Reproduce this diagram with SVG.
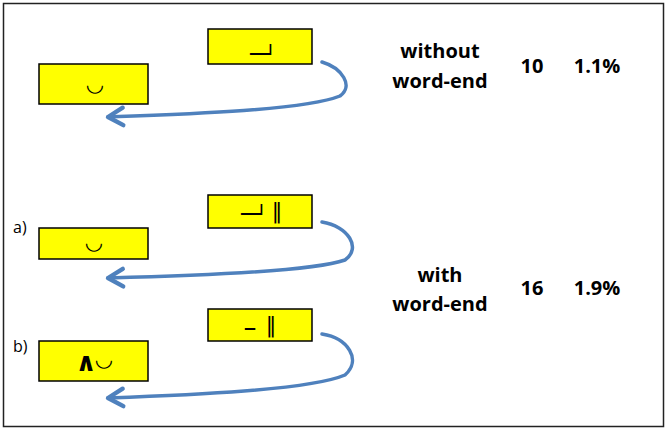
<svg xmlns="http://www.w3.org/2000/svg" width="666" height="430" viewBox="0 0 666 430">
<style>
.box{fill:#FFFF00;stroke:#000;stroke-width:1.5}
.sym{font-family:"DejaVu Sans","Noto Sans",sans-serif;font-size:18px;fill:#000;text-anchor:middle}
.big{font-size:38px}
.brv{font-size:21px}
.bar{font-size:21px}
.dash{font-size:26px}
.wedge{font-size:26px;font-weight:bold}
.lbl{font-family:"Open Sans","Liberation Sans",sans-serif;font-size:20px;font-weight:bold;fill:#000;text-anchor:middle}
.tag{font-family:"Open Sans","Liberation Sans",sans-serif;font-size:16px;fill:#000}
.arr{fill:none;stroke:#4F81BD;stroke-width:3.5;stroke-linecap:round}
</style>
<defs>
<marker id="ah" markerUnits="userSpaceOnUse" markerWidth="30" markerHeight="30" refX="0" refY="0" viewBox="-16 -12 20 24" orient="auto">
<path d="M-12,-7 L0,0 L-12,7" fill="none" stroke="#4F81BD" stroke-width="3.5" stroke-linecap="round" stroke-linejoin="round"/>
</marker>
</defs>
<rect x="3.5" y="3.5" width="660" height="423" fill="#fff" stroke="#222" stroke-width="1.5"/>
<g id="n1-src"><rect class="box" x="208" y="29" width="104" height="35"/><text class="sym big" x="260" y="58">⏗</text></g>
<g id="n1-dst"><rect class="box" x="39" y="64" width="109" height="40"/><text class="sym brv" x="95" y="91">◡</text></g>
<g id="na-src"><rect class="box" x="208" y="195" width="104" height="33"/><text class="sym big" x="251" y="218">⏗</text><text class="sym bar" x="277" y="218">‖</text></g>
<g id="na-dst"><rect class="box" x="39" y="228" width="109" height="31"/><text class="sym brv" x="94" y="249">◡</text></g>
<g id="nb-src"><rect class="box" x="208" y="309" width="104" height="32"/><text class="sym dash" x="250" y="336">–</text><text class="sym bar" x="271" y="332">‖</text></g>
<g id="nb-dst"><rect class="box" x="39" y="341" width="109" height="40"/><text class="sym wedge" x="86" y="371">∧</text><text class="sym brv" x="104" y="366">◡</text></g>
<g id="connectors">
<path class="arr" marker-end="url(#ah)" d="M322,62 C342,68 354,86 340,96 C305,110 190,114 108,117"/>
<path class="arr" marker-end="url(#ah)" d="M322,222 C348,226 362,248 345,260 C310,272 190,276 108,278"/>
<path class="arr" marker-end="url(#ah)" d="M322,334 C348,338 362,360 345,375 C310,390 190,395 108,398"/>
</g>
<g id="labels">
<text class="tag" x="13" y="233">a)</text>
<text class="tag" x="13" y="352">b)</text>
<text class="lbl" x="440" y="58">without</text>
<text class="lbl" x="440" y="88">word-end</text>
<text class="lbl" x="532" y="73">10</text>
<text class="lbl" x="597" y="73">1.1%</text>
<text class="lbl" x="440" y="282">with</text>
<text class="lbl" x="440" y="311">word-end</text>
<text class="lbl" x="532" y="295">16</text>
<text class="lbl" x="597" y="295">1.9%</text>
</g>
</svg>
